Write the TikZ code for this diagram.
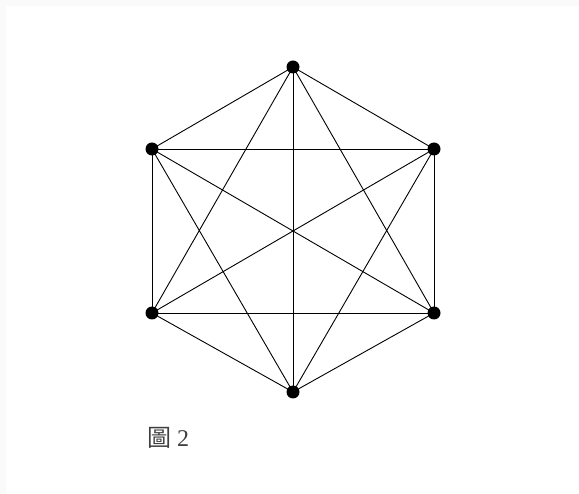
\documentclass[tikz,border=0pt]{standalone}
\usepackage{fontspec}
\setmainfont{Liberation Serif}
\newfontfamily\cjk{Noto Sans CJK TC}
\usepackage{tikz}
\usetikzlibrary{positioning, calc}
\usepackage{xcolor}

\begin{document}
\begin{tikzpicture}[x=1pt, y=-1pt]
            \useasboundingbox (0,0) rectangle (579,494);
            \fill[black!2] (0,0) rectangle (579,494);
            \fill[white] (6,6) rectangle (579,494);

            \coordinate (A) at (293,67);
            \coordinate (B) at (434,149);
            \coordinate (C) at (434,313);
            \coordinate (D) at (293,392);
            \coordinate (E) at (152,313);
            \coordinate (F) at (152,149);

            \foreach \u/\v in {A/B, A/C, A/D, A/E, A/F, B/C, B/D, B/E, B/F, C/D, C/E, C/F, D/E, D/F, E/F}
                \draw[line width=0.9pt] (\u) -- (\v);

            \foreach \p in {A, B, C, D, E, F}
                \fill[black] (\p) circle (6.5pt);

            \node[text=black!75, font=\fontsize{24}{24}\selectfont] (cap) at (168,438) {{\cjk 圖} 2};
        \end{tikzpicture}
\end{document}
